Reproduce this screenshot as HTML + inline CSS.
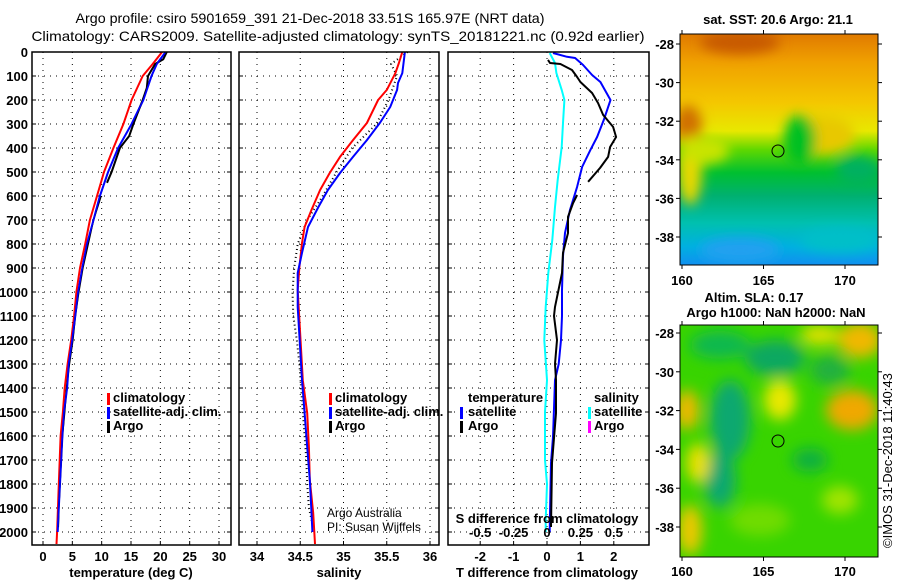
<!DOCTYPE html>
<html><head><meta charset="utf-8">
<style>
html,body{margin:0;padding:0;background:#fff;}
svg{display:block;font-family:"Liberation Sans",sans-serif;}
.tk{font-size:13px;font-weight:bold;fill:#000;}
.lg{font-size:13px;font-weight:bold;fill:#000;}
</style></head>
<body>
<svg id="fig" width="900" height="580" viewBox="0 0 900 580">
<defs>
<linearGradient id="sstg" x1="0" y1="0" x2="0" y2="1">
<stop offset="0" stop-color="#e07a00"/>
<stop offset="0.12" stop-color="#f0a000"/>
<stop offset="0.3" stop-color="#f4c800"/>
<stop offset="0.42" stop-color="#e8e800"/>
<stop offset="0.5" stop-color="#60d800"/>
<stop offset="0.6" stop-color="#00c030"/>
<stop offset="0.7" stop-color="#00b070"/>
<stop offset="0.82" stop-color="#00c0b0"/>
<stop offset="0.92" stop-color="#00b0e0"/>
<stop offset="1" stop-color="#1090f0"/>
</linearGradient>
<filter id="blur1"><feGaussianBlur stdDeviation="6"/></filter>
<filter id="blur2"><feGaussianBlur stdDeviation="7"/></filter>
<clipPath id="c1"><rect x="680" y="34" width="198" height="231"/></clipPath>
<clipPath id="c2"><rect x="680" y="325" width="198" height="232"/></clipPath>
</defs>
<text x="310" y="23" text-anchor="middle" font-size="14" textLength="469" lengthAdjust="spacingAndGlyphs">Argo profile: csiro 5901659_391 21-Dec-2018 33.51S 165.97E (NRT data)</text>
<text x="338" y="41" text-anchor="middle" font-size="14" textLength="613" lengthAdjust="spacingAndGlyphs">Climatology: CARS2009. Satellite-adjusted climatology: synTS_20181221.nc (0.92d earlier)</text>
<g id="panels"></g>
<g>
<text x="778" y="24" text-anchor="middle" class="tk">sat. SST: 20.6 Argo: 21.1</text>
<g clip-path="url(#c1)">
<rect x="680" y="34" width="198" height="231" fill="url(#sstg)"/>
<g filter="url(#blur1)">
<ellipse cx="740" cy="42" rx="40" ry="12" fill="#c85a00"/>
<ellipse cx="688" cy="125" rx="14" ry="20" fill="#d07000"/>
<ellipse cx="690" cy="170" rx="12" ry="35" fill="#e8d800"/>
<ellipse cx="705" cy="150" rx="24" ry="14" fill="#c8e400"/>
<ellipse cx="820" cy="135" rx="35" ry="20" fill="#e8c800"/>
<ellipse cx="800" cy="140" rx="16" ry="25" fill="#00c020"/>
<ellipse cx="858" cy="170" rx="22" ry="14" fill="#00b060"/>
<ellipse cx="840" cy="240" rx="40" ry="12" fill="#00c0c8"/>
<ellipse cx="740" cy="250" rx="40" ry="12" fill="#20a0f0"/>
</g>
</g>
<rect x="680" y="34" width="198" height="231" fill="none" stroke="#000"/>
<circle cx="778" cy="151" r="6" fill="none" stroke="#000"/>
</g>
<g>
<text x="754" y="302" text-anchor="middle" class="tk">Altim. SLA: 0.17</text>
<text x="776" y="317" text-anchor="middle" class="tk">Argo h1000: NaN h2000: NaN</text>
<g clip-path="url(#c2)">
<rect x="680" y="325" width="198" height="232" fill="#38d400"/>
<g filter="url(#blur2)">
<ellipse cx="720" cy="345" rx="30" ry="14" fill="#10b850"/>
<ellipse cx="775" cy="358" rx="30" ry="18" fill="#10a860"/>
<ellipse cx="730" cy="420" rx="20" ry="40" fill="#10a870"/>
<ellipse cx="720" cy="480" rx="16" ry="28" fill="#10a870"/>
<ellipse cx="830" cy="370" rx="20" ry="15" fill="#20b040"/>
<ellipse cx="860" cy="340" rx="22" ry="18" fill="#f0b800"/>
<ellipse cx="820" cy="335" rx="20" ry="10" fill="#e0e000"/>
<ellipse cx="852" cy="410" rx="26" ry="20" fill="#f0a800"/>
<ellipse cx="687" cy="410" rx="12" ry="20" fill="#f0b800"/>
<ellipse cx="698" cy="463" rx="12" ry="20" fill="#e8e000"/>
<ellipse cx="690" cy="530" rx="12" ry="25" fill="#f0c800"/>
<ellipse cx="780" cy="400" rx="16" ry="20" fill="#e8e800"/>
<ellipse cx="810" cy="460" rx="18" ry="12" fill="#10b040"/>
<ellipse cx="760" cy="520" rx="30" ry="16" fill="#70dc00"/>
<ellipse cx="840" cy="500" rx="18" ry="14" fill="#a0e400"/>
</g>
</g>
<rect x="680" y="325" width="198" height="232" fill="none" stroke="#000"/>
<circle cx="778" cy="441" r="6" fill="none" stroke="#000"/>
</g>
<text transform="translate(892,548) rotate(-90)" font-size="13">©IMOS 31-Dec-2018 11:40:43</text>
</svg>
<script>
const depthTicks = [0,100,200,300,400,500,600,700,800,900,1000,1100,1200,1300,1400,1500,1600,1700,1800,1900,2000];
const tempTicks = [0,5,10,15,20,25,30];
const salTicks = [34,34.5,35,35.5,36];
const salTickLabels = ["34","34.5","35","35.5","36"];
const tdiffTicks = [-2,-1,0,1,2];
const sdiffTicks = [-0.5,-0.25,0,0.25,0.5];
const sdiffTickLabels = ["-0.5","-0.25","0","0.25","0.5"];

const tClimDepth = [0,50,100,200,300,400,500,600,700,800,900,1000,1100,1200,1300,1400,1500,1600,1800,2000,2050];
const tClim = [20.3,18.7,17.0,15.1,13.7,12.0,10.4,9.2,8.0,7.2,6.3,5.7,5.3,4.8,4.2,3.7,3.4,3.0,2.7,2.4,2.3];
const tSatDepth = [0,50,100,200,300,400,500,600,700,800,900,1000,1100,1200,1300,1400,1500,1600,1700,1800,1900,2000];
const tSat = [20.9,19.4,18.5,17.1,15.1,12.8,11.1,9.7,8.6,7.5,6.7,6.0,5.5,5.0,4.4,4.1,3.6,3.3,3.1,2.9,2.7,2.5];
const tArgoDepth = [0,30,50,100,150,200,300,350,400,500,545];
const tArgo = [21.1,20.5,19.1,17.9,17.7,17.0,15.4,14.7,13.1,11.7,10.9];
const tArgoDeepDepth = [600,700,800,900,1000,1100,1200,1300,1400,1500,1600,1700,1800,1900,1980];
const tArgoDeep = [9.9,8.6,7.7,6.8,6.1,5.5,5.1,4.5,4.0,3.7,3.3,3.1,2.9,2.7,2.6];

const sClimDepth = [0,46,88,158,200,296,367,437,504,575,658,729,796,896,992,1367,1504,1646,1783,1921,2050];
const sClim = [35.68,35.64,35.60,35.50,35.40,35.27,35.11,34.96,34.84,34.73,34.63,34.55,34.52,34.49,34.47,34.53,34.58,34.60,34.61,34.65,34.67];
const sSatDepth = [0,88,129,158,229,296,367,437,504,575,646,729,837,921,1062,1367,1504,1646,1783,1921,2000];
const sSat = [35.71,35.68,35.63,35.62,35.54,35.42,35.27,35.11,34.96,34.82,34.71,34.59,34.52,34.47,34.47,34.52,34.55,34.58,34.61,34.63,34.64];
const sArgoDepth = [0,50,100,200,300,400,500,600,700,800,900,1000,1100,1200,1300,1400,1500,1600,1700,1800,1900,1980];
const sArgo = [35.74,35.55,35.62,35.52,35.38,35.10,34.92,34.76,34.58,34.47,34.43,34.41,34.42,34.46,34.49,34.51,34.53,34.55,34.57,34.58,34.60,34.65];

const dSatDepth = [4,20,25,54,96,125,200,283,354,408,479,562,658,754,850,992,1100,1200,1300,1367,1604,1712,1921,2000];
const dTSat = [0.18,0.6,0.84,1.08,1.35,1.6,1.9,1.7,1.5,1.3,1.05,0.9,0.69,0.54,0.48,0.45,0.45,0.42,0.35,0.24,0.18,0.12,0.09,0.08];
const dArgoDepth = [33,46,50,75,104,125,171,213,262,312,354,396,437,483,541];
const dTArgo = [0.03,0.09,0.4,0.75,0.9,1.0,1.35,1.53,1.68,1.98,2.07,1.89,1.83,1.59,1.23];
const dArgoDeepDepth = [596,629,687,754,837,921,1062,1100,1200,1300,1367,1504,1712,1979];
const dTArgoDeep = [0.9,0.78,0.63,0.63,0.48,0.45,0.24,0.21,0.3,0.24,0.27,0.27,0.15,0.12];
const dSDepth = [4,46,88,158,200,296,396,533,646,783,921,1062,1200,1367,1500,1700,1800,1950,2000];
const dSSat = [0.02,0.06,0.07,0.11,0.13,0.12,0.11,0.08,0.06,0.04,0.01,-0.01,-0.02,0,-0.015,-0.015,0,-0.01,-0.01];

const NS='http://www.w3.org/2000/svg';
const root=document.getElementById('panels');
const top0=52, bot=545;
const y=d=>top0+d*0.24;
const P1={l:32,r:231}, P2={l:239,r:439}, P3={l:448,r:649};
const xT=v=>43+v*5.867;
const xS=v=>257+(v-34)*86.5;
const xDT=v=>547+v*33.4;
const xDS=v=>547+v*133.6;

function mk(tag,attrs,parent){const e=document.createElementNS(NS,tag);for(const k in attrs)e.setAttribute(k,attrs[k]);(parent||root).appendChild(e);return e;}
function txt(x0,y0,s,cls,anchor,parent){const t=mk('text',{x:x0,y:y0,class:cls,'text-anchor':anchor||'middle'},parent);t.textContent=s;return t;}
function grid(P,xs,xf,g){
  for(const v of xs){const xx=xf(v);if(xx<=P.l+1||xx>=P.r-1)continue;
    const l=mk('line',{x1:xx,x2:xx,y1:top0,y2:bot,stroke:'#000','stroke-width':1,'stroke-dasharray':'1 5'},g);
    
    }
  for(const d of depthTicks){const yy=y(d);if(yy<=top0+1)continue;
    const l=mk('line',{x1:P.l,x2:P.r,y1:yy,y2:yy,stroke:'#000','stroke-width':1,'stroke-dasharray':'1 5'},g);
    
    
    mk('line',{x1:P.l,x2:P.l+4,y1:yy,y2:yy,stroke:'#000'},g);mk('line',{x1:P.r-4,x2:P.r,y1:yy,y2:yy,stroke:'#000'},g);}
}
function frame(P,g){const r=mk('rect',{x:P.l,y:top0,width:P.r-P.l,height:bot-top0,fill:'none',stroke:'#000','stroke-width':1.5},g);
  
  }
function line(ds,vs,xf,color,name,g,dash,w){
  const pts=ds.map((d,i)=>xf(vs[i]).toFixed(1)+','+y(d).toFixed(1)).join(' ');
  const p=mk('polyline',{points:pts,fill:'none',stroke:color,'stroke-width':w||2,'stroke-linejoin':'round'},g);
  if(dash)p.setAttribute('stroke-dasharray',dash);
  
  
}
function xticks(P,vals,labels,xf,yy,g){vals.forEach((v,i)=>{const xx=xf(v);
  mk('line',{x1:xx,x2:xx,y1:bot-4,y2:bot,stroke:'#000'},g);
  const t=txt(xx,yy,labels?labels[i]:String(v),'tk','middle',g);
  
  });}
function legbar(x0,y0,color,g){mk('rect',{x:x0,y:y0-10,width:3,height:12,fill:color},g);}

const g1=mk('g',{});


grid(P1,tempTicks,xT,g1);
line(tClimDepth,tClim,xT,'#f00','temperature-climatology-line',g1);
line(tSatDepth,tSat,xT,'#00f','temperature-satellite-line',g1);
line(tArgoDepth,tArgo,xT,'#000','temperature-argo-line',g1);
line(tArgoDeepDepth,tArgoDeep,xT,'#000','temperature-argo-deep-line',g1,null,1.5);
line(tSatDepth,tSat,xT,'#00f','temperature-satellite-line-top',g1,null,1.5);
frame(P1,g1);
depthTicks.forEach(d=>{const t=txt(28,y(d)+5,String(d),'tk','end',g1);
  
  });
xticks(P1,tempTicks,null,xT,561,g1);
const at1=txt(131,577,'temperature (deg C)','tk','middle',g1);


legbar(107,403,'#f00',g1);legbar(107,417,'#00f',g1);legbar(107,431,'#000',g1);
[['climatology',402],['satellite-adj. clim.',416],['Argo',430]].forEach(([s,yy])=>{const t=txt(113,yy,s,'lg','start',g1);
  
  });

const g2=mk('g',{});


grid(P2,salTicks,xS,g2);
line(sArgoDepth,sArgo,xS,'#000','salinity-argo-line',g2,'1 3',2);
line(sClimDepth,sClim,xS,'#f00','salinity-climatology-line',g2);
line(sSatDepth,sSat,xS,'#00f','salinity-satellite-line',g2);
frame(P2,g2);
xticks(P2,salTicks,salTickLabels,xS,561,g2);
const at2=txt(339,577,'salinity','tk','middle',g2);


legbar(329,403,'#f00',g2);legbar(329,417,'#00f',g2);legbar(329,431,'#000',g2);
[['climatology',402],['satellite-adj. clim.',416],['Argo',430]].forEach(([s,yy])=>{const t=txt(335,yy,s,'lg','start',g2);
  
  });
const cr1=txt(327,517,'Argo Australia','','start',g2);cr1.setAttribute('font-size','12');


const cr2=txt(327,531,'PI: Susan Wijffels','','start',g2);cr2.setAttribute('font-size','12');



const g3=mk('g',{});


grid(P3,tdiffTicks,xDT,g3);
line(dSDepth,dSSat,xDS,'#00ffff','salinity-diff-satellite-line',g3);
line(dSatDepth,dTSat,xDT,'#00f','temperature-diff-satellite-line',g3);
line(dArgoDepth,dTArgo,xDT,'#000','temperature-diff-argo-line',g3);
line(dArgoDeepDepth,dTArgoDeep,xDT,'#000','temperature-diff-argo-deep-line',g3);
frame(P3,g3);
xticks(P3,tdiffTicks,null,xDT,561,g3);
sdiffTicks.forEach((v,i)=>{const t=txt(xDS(v),537,sdiffTickLabels[i],'tk','middle',g3);
  
  });
const st=txt(547,523,'S difference from climatology','tk','middle',g3);


const tt=txt(547,577,'T difference from climatology','tk','middle',g3);


legbar(460,417,'#00f',g3);legbar(460,431,'#000',g3);
legbar(588,417,'#00ffff',g3);legbar(588,431,'#ff00ff',g3);
[['temperature',468,402],['satellite',468,416],['Argo',468,430],['salinity',594,402],['satellite',594,416],['Argo',594,430]].forEach(([s,xx,yy])=>{const t=txt(xx,yy,s,'lg','start',g3);
  
  });

const mapLonTicks=[160,165,170];
const mapLatTicks=[-28,-30,-32,-34,-36,-38];
function mapAxes(top,bottom,lat0y,latStep,labelY){
  const g=mk('g',{},document.getElementById('fig'));
  
  
  mapLonTicks.forEach(v=>{const xx=682+(v-160)*16.3;
    mk('line',{x1:xx,x2:xx,y1:top-4,y2:top,stroke:'#000'},g);
    mk('line',{x1:xx,x2:xx,y1:bottom,y2:bottom+4,stroke:'#000'},g);
    const t=txt(xx,labelY,String(v),'tk','middle',g);t.setAttribute('font-size','14');
    
    });
  mapLatTicks.forEach((v,i)=>{const yy=lat0y+i*latStep;
    mk('line',{x1:676,x2:680,y1:yy,y2:yy,stroke:'#000'},g);
    mk('line',{x1:878,x2:882,y1:yy,y2:yy,stroke:'#000'},g);
    const t=txt(674,yy+5,String(v),'tk','end',g);
    
    });
}
mapAxes(34,265,44,38.6,285);
mapAxes(325,557,333,38.8,576);
</script>
</body></html>
